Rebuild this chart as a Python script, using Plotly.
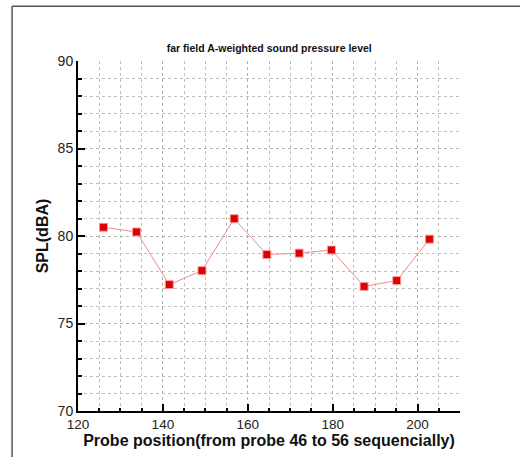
import plotly.graph_objects as go

probe_x = [126.0, 133.8, 141.5, 149.2, 156.8, 164.5, 172.1, 179.7, 187.4, 195.1, 202.8]
spl_dba = [80.5, 80.23, 77.22, 78.02, 80.99, 78.94, 79.02, 79.2, 77.12, 77.45, 79.82]

title_text = "far field A-weighted sound pressure level"
x_title = "Probe position(from probe 46 to 56 sequencially)"
y_title = "SPL(dBA)"

W, H = 520, 457
L, R, T, B = 78, 460.5, 60.7, 410.7

fig = go.Figure()
fig.add_trace(go.Scatter(
    x=probe_x, y=spl_dba, mode="lines+markers",
    line=dict(color="#f08a8a", width=1),
    marker=dict(symbol="square", size=8, color="#dd0000",
                line=dict(color="#f5a0a0", width=1)),
    showlegend=False,
))

grid = dict(showgrid=True, gridcolor="#b0b0b0", gridwidth=1, griddash="dot")

fig.update_layout(
    width=W, height=H,
    margin=dict(l=L, r=W - R, t=T, b=H - B),
    paper_bgcolor="white", plot_bgcolor="white",
    font=dict(family="Liberation Sans, Arial, sans-serif", color="#222"),
    title=dict(text="<b>" + title_text + "</b>", x=(L + R) / 2 / W, xanchor="center",
               y=1 - 48 / H, yanchor="middle",
               font=dict(size=10.5, color="#111")),
    xaxis=dict(range=[120, 210], tickvals=[120, 140, 160, 180, 200],
               ticks="inside", ticklen=7, tickwidth=2, tickcolor="black",
               showline=True, linecolor="black", linewidth=2,
               zeroline=False, **grid,
               minor=dict(dtick=5, showgrid=True, gridcolor="#c0c0c0", griddash="dot",
                          ticks="inside", ticklen=3, tickcolor="black"),
               tickfont=dict(size=13.5, color="#222"),
               title=dict(text="<b>" + x_title + "</b>", font=dict(size=16, color="#111"),
                          standoff=0)),
    yaxis=dict(range=[70, 90], tickvals=[70, 75, 80, 85, 90],
               ticks="inside", ticklen=7, tickwidth=2, tickcolor="black",
               showline=True, linecolor="black", linewidth=2,
               zeroline=False, **grid,
               minor=dict(dtick=1, showgrid=True, gridcolor="#c0c0c0", griddash="dot",
                          ticks="inside", ticklen=4, tickcolor="black"),
               tickfont=dict(size=14, color="#222"),
               title=dict(text="<b>" + y_title + "</b>", font=dict(size=16, color="#111"),
                          standoff=5)),
)

# outer frame of the screenshot
pw, ph = R - L, B - T
fig.add_shape(type="line", xref="paper", yref="paper",
              x0=(12 - L) / pw, x1=(12 - L) / pw, y0=(B - 470) / ph, y1=(B - 6) / ph,
              line=dict(color="#555", width=1.5))
fig.add_shape(type="line", xref="paper", yref="paper",
              x0=(12 - L) / pw, x1=(530 - L) / pw, y0=(B - 6) / ph, y1=(B - 6) / ph,
              line=dict(color="#555", width=1.5))

fig.write_html("out.html")
